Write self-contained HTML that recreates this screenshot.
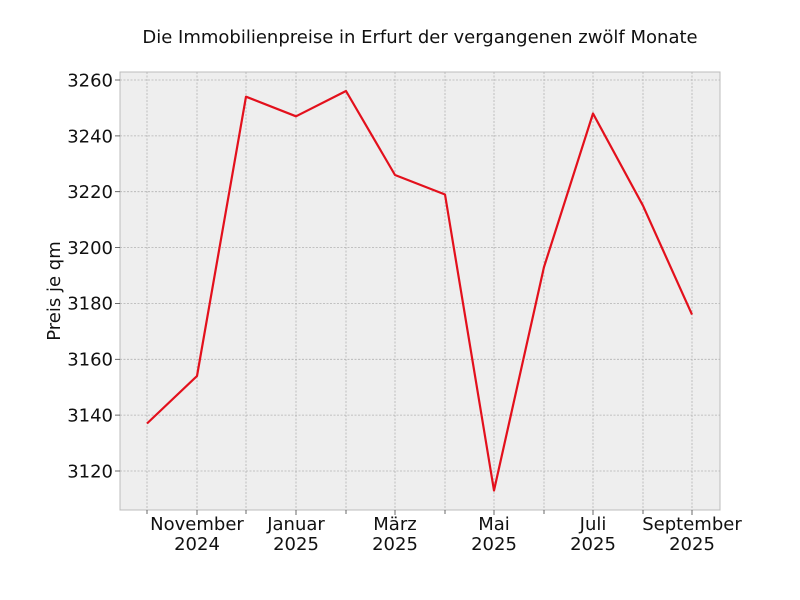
<!DOCTYPE html>
<html><head><meta charset="utf-8"><style>body{margin:0;background:#fff}svg{display:block}</style></head><body>
<svg width="800" height="600" xmlns="http://www.w3.org/2000/svg" font-family="'DejaVu Sans', sans-serif">
<rect width="800" height="600" fill="#fff"/>
<rect x="120" y="72" width="600" height="438" fill="#eeeeee" stroke="#bcbcbc" stroke-width="1"/>
<g stroke="#b2b2b2" stroke-width="0.8" stroke-dasharray="2,1.5">
<line x1="147" y1="72" x2="147" y2="510"/><line x1="197" y1="72" x2="197" y2="510"/><line x1="246" y1="72" x2="246" y2="510"/><line x1="296" y1="72" x2="296" y2="510"/><line x1="346" y1="72" x2="346" y2="510"/><line x1="395" y1="72" x2="395" y2="510"/><line x1="445" y1="72" x2="445" y2="510"/><line x1="494" y1="72" x2="494" y2="510"/><line x1="544" y1="72" x2="544" y2="510"/><line x1="593" y1="72" x2="593" y2="510"/><line x1="643" y1="72" x2="643" y2="510"/><line x1="692" y1="72" x2="692" y2="510"/>
<line x1="120" y1="471" x2="720" y2="471"/><line x1="120" y1="415.1" x2="720" y2="415.1"/><line x1="120" y1="359.3" x2="720" y2="359.3"/><line x1="120" y1="303.4" x2="720" y2="303.4"/><line x1="120" y1="247.6" x2="720" y2="247.6"/><line x1="120" y1="191.7" x2="720" y2="191.7"/><line x1="120" y1="135.9" x2="720" y2="135.9"/><line x1="120" y1="80" x2="720" y2="80"/>
</g>
<g stroke="#444" stroke-width="0.8">
<line x1="147" y1="510" x2="147" y2="514"/><line x1="197" y1="510" x2="197" y2="515"/><line x1="246" y1="510" x2="246" y2="514"/><line x1="296" y1="510" x2="296" y2="515"/><line x1="346" y1="510" x2="346" y2="514"/><line x1="395" y1="510" x2="395" y2="515"/><line x1="445" y1="510" x2="445" y2="514"/><line x1="494" y1="510" x2="494" y2="515"/><line x1="544" y1="510" x2="544" y2="514"/><line x1="593" y1="510" x2="593" y2="515"/><line x1="643" y1="510" x2="643" y2="514"/><line x1="692" y1="510" x2="692" y2="515"/>
<line x1="115" y1="471" x2="120" y2="471"/><line x1="115" y1="415.1" x2="120" y2="415.1"/><line x1="115" y1="359.3" x2="120" y2="359.3"/><line x1="115" y1="303.4" x2="120" y2="303.4"/><line x1="115" y1="247.6" x2="120" y2="247.6"/><line x1="115" y1="191.7" x2="120" y2="191.7"/><line x1="115" y1="135.9" x2="120" y2="135.9"/><line x1="115" y1="80" x2="120" y2="80"/>
</g>
<polyline fill="none" stroke="#e3101c" stroke-width="2.2" stroke-linejoin="round" points="147,423.5 197,376 246,96.7 296,116.3 346,91 395,175 445,194.5 494,490.5 544,267 593,113.5 643,205.7 692,314.6"/>
<g font-size="18" fill="#111" text-anchor="end">
<text x="113" y="477.5">3120</text><text x="113" y="421.5">3140</text><text x="113" y="365.5">3160</text><text x="113" y="309.5">3180</text><text x="113" y="254">3200</text><text x="113" y="198">3220</text><text x="113" y="142.5">3240</text><text x="113" y="86.5">3260</text>
</g>
<g font-size="18" fill="#111" text-anchor="middle">
<text x="197" y="530">November</text><text x="197" y="550">2024</text>
<text x="296" y="530">Januar</text><text x="296" y="550">2025</text>
<text x="395" y="530">März</text><text x="395" y="550">2025</text>
<text x="494" y="530">Mai</text><text x="494" y="550">2025</text>
<text x="593" y="530">Juli</text><text x="593" y="550">2025</text>
<text x="692" y="530">September</text><text x="692" y="550">2025</text>
<text x="420" y="43">Die Immobilienpreise in Erfurt der vergangenen zwölf Monate</text>
<text transform="translate(60,291) rotate(-90)">Preis je qm</text>
</g>
</svg>
</body></html>
